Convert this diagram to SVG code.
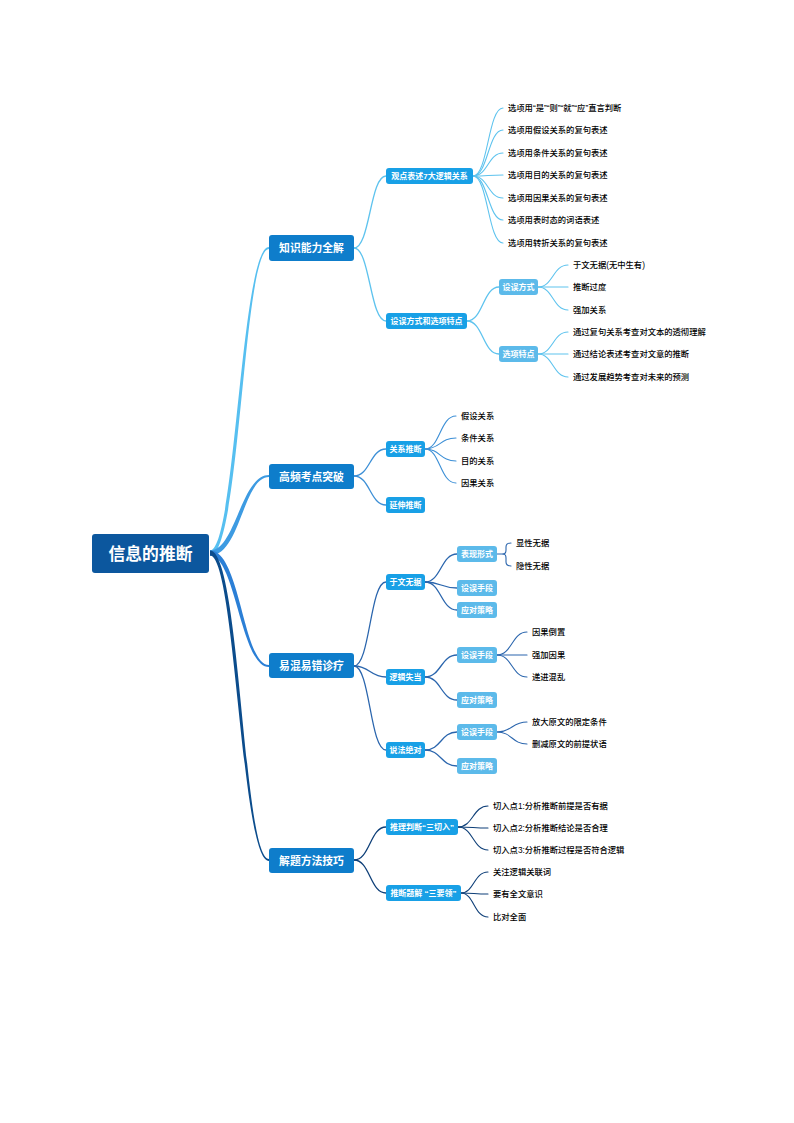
<svg xmlns="http://www.w3.org/2000/svg" width="794" height="1123" viewBox="0 0 794 1123">
<style>
text{font-family:"Liberation Sans","Noto Sans CJK SC",sans-serif;dominant-baseline:central}
.leaf{font-size:8.3px;fill:#000;font-weight:500}
.bt{fill:#fff;font-weight:bold;text-anchor:middle}
.root{fill:#0c579e}
.l1{fill:#0e7dcb}
.l2{fill:#18a0e6}
.l3{fill:#5cbaea}
.c{fill:none;stroke-linecap:round}
.b1{stroke:#5ec3ee}
.b2{stroke:#3c8fd6}
.b3{stroke:#2a65ad}
.b4{stroke:#0e3f78}
.s1{stroke-width:1.3}
.s2{stroke-width:1.1}
</style>
<rect width="794" height="1123" fill="#fff"/>
<g id="connectors">
<path d="M210,550.5 C235.5,550.5 241,247 269,247 L269,249 C243,249 240.5,555.5 210,555.5 Z" fill="#56bff0"/>
<path d="M210,550.5 C235.5,550.5 241,475 269,475 L269,477 C243,477 240.5,555.5 210,555.5 Z" fill="#3d9be2"/>
<path d="M210,550.5 C240.5,550.5 243,665 269,665 L269,667 C241,667 235.5,555.5 210,555.5 Z" fill="#2b7fd6"/>
<path d="M210,550.5 C240.5,550.5 243,859 269,859 L269,861 C241,861 235.5,555.5 210,555.5 Z" fill="#0b4c8c"/>
<g class="c b1 s1">
<path d="M354,248 C370,248 370,176 386,176"/>
<path d="M354,248 C370,248 370,321 386,321"/>
<path d="M467,321 C483,321 483,287 499,287"/>
<path d="M467,321 C483,321 483,354 499,354"/>
</g>
<g class="c b1 s2">
<path d="M473,176 C488,176 488,108 503,108"/>
<path d="M473,176 C488,176 488,130 503,130"/>
<path d="M473,176 C488,176 488,153 503,153"/>
<path d="M473,176 C488,176 488,175 503,175"/>
<path d="M473,176 C488,176 488,198 503,198"/>
<path d="M473,176 C488,176 488,220 503,220"/>
<path d="M473,176 C488,176 488,243 503,243"/>
<path d="M538,287 C553,287 553,265 568,265"/>
<path d="M538,287 C553,287 553,287 568,287"/>
<path d="M538,287 C553,287 553,310 568,310"/>
<path d="M538,354 C553,354 553,332 568,332"/>
<path d="M538,354 C553,354 553,354 568,354"/>
<path d="M538,354 C553,354 553,377 568,377"/>
</g>
<g class="c b2 s1">
<path d="M354,476 C370,476 370,449 386,449"/>
<path d="M354,476 C370,476 370,505 386,505"/>
</g>
<g class="c b2 s2">
<path d="M425,449 C440,449 440,416 456,416"/>
<path d="M425,449 C440,449 440,438 456,438"/>
<path d="M425,449 C440,449 440,461 456,461"/>
<path d="M425,449 C440,449 440,483 456,483"/>
</g>
<g class="c b3 s1">
<path d="M354,666 C370,666 370,582 386,582"/>
<path d="M354,666 C370,666 370,677 386,677"/>
<path d="M354,666 C370,666 370,750 386,750"/>
<path d="M425,582 C441,582 441,554 457,554"/>
<path d="M425,582 C441,582 441,588 457,588"/>
<path d="M425,582 C441,582 441,610 457,610"/>
<path d="M425,677 C441,677 441,655 457,655"/>
<path d="M425,677 C441,677 441,700 457,700"/>
<path d="M425,750 C441,750 441,732 457,732"/>
<path d="M425,750 C441,750 441,766 457,766"/>
</g>
<g class="c b3 s2">
<path d="M497,554 H503 Q506,554 506,550 V547 Q506,543 511,543"/>
<path d="M503,554 Q506,554 506,558 V562 Q506,566 511,566"/>
<path d="M497,655 C512,655 512,632 527,632"/>
<path d="M497,655 C512,655 512,655 527,655"/>
<path d="M497,655 C512,655 512,677 527,677"/>
<path d="M497,732 C512,732 512,722 527,722"/>
<path d="M497,732 C512,732 512,744 527,744"/>
</g>
<g class="c b4 s1">
<path d="M354,860 C370,860 370,827 386,827"/>
<path d="M354,860 C370,860 370,893 386,893"/>
</g>
<g class="c b4 s2">
<path d="M458,827 C473,827 473,806 488,806"/>
<path d="M458,827 C473,827 473,828 488,828"/>
<path d="M458,827 C473,827 473,850 488,850"/>
<path d="M461,893 C474,893 474,872 488,872"/>
<path d="M461,893 C474,893 474,894 488,894"/>
<path d="M461,893 C474,893 474,917 488,917"/>
</g>
</g>
<g id="root"><rect class="root" x="92" y="534" width="117" height="39" rx="3"/><text class="bt" x="150.5" y="554" font-size="16.8">信息的推断</text></g>
<g id="n1"><rect class="l1" x="269" y="235" width="85" height="26" rx="3"/><text class="bt" x="311.5" y="248" font-size="10.8">知识能力全解</text></g>
<g id="n2"><rect class="l1" x="269" y="464" width="85" height="25" rx="3"/><text class="bt" x="311.5" y="476.5" font-size="10.8">高频考点突破</text></g>
<g id="n3"><rect class="l1" x="269" y="653" width="85" height="25" rx="3"/><text class="bt" x="311.5" y="665.5" font-size="10.8">易混易错诊疗</text></g>
<g id="n4"><rect class="l1" x="269" y="848" width="85" height="25" rx="3"/><text class="bt" x="311.5" y="860.5" font-size="10.8">解题方法技巧</text></g>
<g id="n1a"><rect class="l2" x="386" y="168" width="87" height="16" rx="3"/><text class="bt" x="429.5" y="176" font-size="8">观点表述7大逻辑关系</text></g>
<g id="n1b"><rect class="l2" x="386" y="313" width="81" height="16" rx="3"/><text class="bt" x="426.5" y="321" font-size="8">设误方式和选项特点</text></g>
<g id="n1b1"><rect class="l3" x="499" y="279" width="39" height="16" rx="3"/><text class="bt" x="518.5" y="287" font-size="8">设误方式</text></g>
<g id="n1b2"><rect class="l3" x="499" y="346" width="39" height="16" rx="3"/><text class="bt" x="518.5" y="354" font-size="8">选项特点</text></g>
<g id="n2a"><rect class="l2" x="386" y="441" width="39" height="16" rx="3"/><text class="bt" x="405.5" y="449" font-size="8">关系推断</text></g>
<g id="n2b"><rect class="l2" x="386" y="497" width="39" height="16" rx="3"/><text class="bt" x="405.5" y="505" font-size="8">延伸推断</text></g>
<g id="n3a"><rect class="l2" x="386" y="574" width="39" height="16" rx="3"/><text class="bt" x="405.5" y="582" font-size="8">于文无据</text></g>
<g id="n3b"><rect class="l2" x="386" y="669" width="39" height="16" rx="3"/><text class="bt" x="405.5" y="677" font-size="8">逻辑失当</text></g>
<g id="n3c"><rect class="l2" x="386" y="742" width="39" height="16" rx="3"/><text class="bt" x="405.5" y="750" font-size="8">说法绝对</text></g>
<g id="n3a1"><rect class="l3" x="457" y="546" width="40" height="16" rx="3"/><text class="bt" x="477" y="554" font-size="8">表现形式</text></g>
<g id="n3a2"><rect class="l3" x="457" y="580" width="40" height="16" rx="3"/><text class="bt" x="477" y="588" font-size="8">设误手段</text></g>
<g id="n3a3"><rect class="l3" x="457" y="602" width="40" height="16" rx="3"/><text class="bt" x="477" y="610" font-size="8">应对策略</text></g>
<g id="n3b1"><rect class="l3" x="457" y="647" width="40" height="16" rx="3"/><text class="bt" x="477" y="655" font-size="8">设误手段</text></g>
<g id="n3b2"><rect class="l3" x="457" y="692" width="40" height="16" rx="3"/><text class="bt" x="477" y="700" font-size="8">应对策略</text></g>
<g id="n3c1"><rect class="l3" x="457" y="724" width="40" height="16" rx="3"/><text class="bt" x="477" y="732" font-size="8">设误手段</text></g>
<g id="n3c2"><rect class="l3" x="457" y="758" width="40" height="16" rx="3"/><text class="bt" x="477" y="766" font-size="8">应对策略</text></g>
<g id="n4a"><rect class="l2" x="386" y="819" width="72" height="16" rx="3"/><text class="bt" x="422" y="827" font-size="8">推理判断“三切入”</text></g>
<g id="n4b"><rect class="l2" x="386" y="885" width="75" height="16" rx="3"/><text class="bt" x="423.5" y="893" font-size="8">推断题解 “三要领”</text></g>
<g id="leaves">
<text class="leaf" x="508" y="108">选项用“是”“则”“就”“应”直言判断</text>
<text class="leaf" x="508" y="130">选项用假设关系的复句表述</text>
<text class="leaf" x="508" y="153">选项用条件关系的复句表述</text>
<text class="leaf" x="508" y="175">选项用目的关系的复句表述</text>
<text class="leaf" x="508" y="198">选项用因果关系的复句表述</text>
<text class="leaf" x="508" y="220">选项用表时态的词语表述</text>
<text class="leaf" x="508" y="243">选项用转折关系的复句表述</text>
<text class="leaf" x="573" y="265">于文无据(无中生有)</text>
<text class="leaf" x="573" y="287">推断过度</text>
<text class="leaf" x="573" y="310">强加关系</text>
<text class="leaf" x="573" y="332">通过复句关系考查对文本的透彻理解</text>
<text class="leaf" x="573" y="354">通过结论表述考查对文意的推断</text>
<text class="leaf" x="573" y="377">通过发展趋势考查对未来的预测</text>
<text class="leaf" x="461" y="416">假设关系</text>
<text class="leaf" x="461" y="438">条件关系</text>
<text class="leaf" x="461" y="461">目的关系</text>
<text class="leaf" x="461" y="483">因果关系</text>
<text class="leaf" x="516" y="543">显性无据</text>
<text class="leaf" x="516" y="566">隐性无据</text>
<text class="leaf" x="532" y="632">因果倒置</text>
<text class="leaf" x="532" y="655">强加因果</text>
<text class="leaf" x="532" y="677">递进混乱</text>
<text class="leaf" x="532" y="722">放大原文的限定条件</text>
<text class="leaf" x="532" y="744">删减原文的前提状语</text>
<text class="leaf" x="493" y="806">切入点1:分析推断前提是否有据</text>
<text class="leaf" x="493" y="828">切入点2:分析推断结论是否合理</text>
<text class="leaf" x="493" y="850">切入点3:分析推断过程是否符合逻辑</text>
<text class="leaf" x="493" y="872">关注逻辑关联词</text>
<text class="leaf" x="493" y="894">要有全文意识</text>
<text class="leaf" x="493" y="917">比对全面</text>
</g>
</svg>
